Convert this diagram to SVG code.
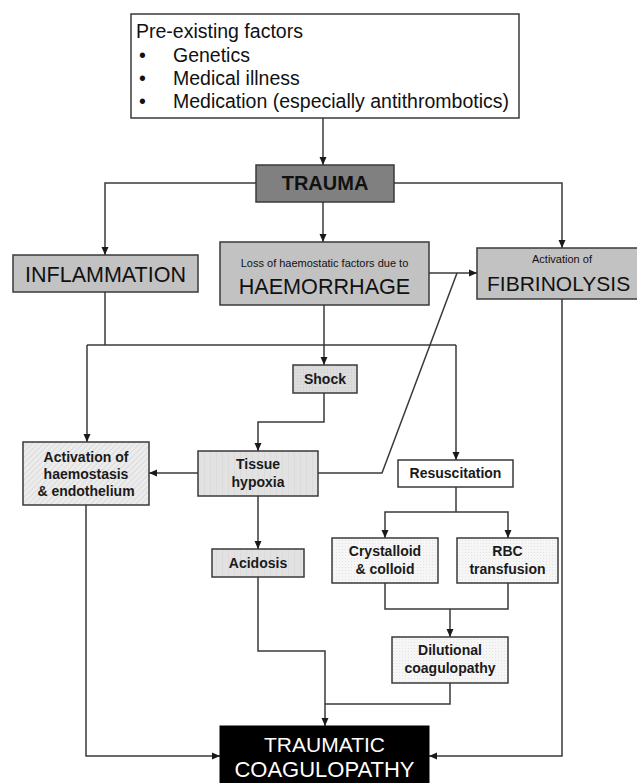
<svg xmlns="http://www.w3.org/2000/svg" width="637" height="783" viewBox="0 0 637 783">
<style>
.box{stroke:#3a3a3a;stroke-width:1.5}
.c{fill:none;stroke:#3a3a3a;stroke-width:1.5}
.a{marker-end:url(#ah)}
.t{font-family:"Liberation Sans",Arial,sans-serif;fill:#111}
.p{font-size:19.5px}
.b{font-family:"Liberation Sans",Arial,sans-serif;font-weight:bold;font-size:14px;fill:#1a1a1a;text-anchor:middle}
.m{text-anchor:middle}
</style>
<defs>
<marker id="ah" viewBox="0 0 8 8" refX="8" refY="4" markerWidth="8" markerHeight="8" markerUnits="userSpaceOnUse" orient="auto">
<path d="M0,0.5 L8,4 L0,7.5 Z" fill="#1a1a1a"/>
</marker>
<pattern id="hatch" width="4" height="4" patternUnits="userSpaceOnUse" patternTransform="rotate(45)">
<rect width="4" height="4" fill="#ececec"/>
<line x1="0" y1="0" x2="0" y2="4" stroke="#d0d0d0" stroke-width="1.2"/>
</pattern>
<pattern id="vstripe" width="6" height="6" patternUnits="userSpaceOnUse">
<rect width="6" height="6" fill="#e2e2e2"/>
<line x1="0" y1="0" x2="0" y2="6" stroke="#d4d4d4" stroke-width="1"/>
</pattern>
<pattern id="dots" width="3" height="3" patternUnits="userSpaceOnUse">
<rect width="3" height="3" fill="#f6f6f6"/>
<rect width="1" height="1" fill="#e4e4e4"/>
</pattern>
<pattern id="dots2" width="3" height="3" patternUnits="userSpaceOnUse">
<rect width="3" height="3" fill="#dcdcdc"/>
<rect width="1" height="1" fill="#cccccc"/>
</pattern>
</defs>

<g id="connectors">
<path class="c a" d="M323,118 V165"/>
<path class="c a" d="M256,183 H105 V255"/>
<path class="c a" d="M394,183 H562 V248"/>
<path class="c a" d="M323,202 V242"/>
<path class="c a" d="M429,273 H477"/>
<path class="c" d="M318,473 H382 L457,273"/>
<path class="c" d="M105,292 V345"/>
<path class="c" d="M87,345 H456"/>
<path class="c a" d="M87,345 V442"/>
<path class="c a" d="M456,345 V460"/>
<path class="c a" d="M324,305 V365"/>
<path class="c a" d="M324,393 V422 H258 V451"/>
<path class="c a" d="M198,473 H149"/>
<path class="c a" d="M258,496 V549"/>
<path class="c a" d="M258,577 V651 H325 V726"/>
<path class="c" d="M456,487 V512"/>
<path class="c a" d="M456,512 H385 V538"/>
<path class="c a" d="M456,512 H508 V538"/>
<path class="c" d="M385,583 V609 H508 V583"/>
<path class="c a" d="M450,609 V637"/>
<path class="c" d="M450,683 V704 H325"/>
<path class="c a" d="M86,505 V756 H220"/>
<path class="c a" d="M562,299 V756 H429"/>
</g>

<g id="preexisting">
<rect class="box" x="131" y="14" width="388" height="104" fill="#fff"/>
<text class="t p" x="136" y="38">Pre-existing factors</text>
<text class="t p" x="139" y="62">•</text>
<text class="t p" x="173" y="62">Genetics</text>
<text class="t p" x="139" y="85">•</text>
<text class="t p" x="173" y="85">Medical illness</text>
<text class="t p" x="139" y="108">•</text>
<text class="t p" x="173" y="108">Medication (especially antithrombotics)</text>
</g>

<g id="trauma">
<rect class="box" x="256" y="165" width="138" height="37" fill="#808080"/>
<text class="t m" x="325" y="190" font-size="20" font-weight="bold">TRAUMA</text>
</g>

<g id="inflammation">
<rect class="box" x="13" y="255" width="185" height="37" fill="#c2c2c2"/>
<text class="t m" x="105.5" y="282" font-size="21.5">INFLAMMATION</text>
</g>

<g id="haemorrhage">
<rect class="box" x="220" y="242" width="209" height="63" fill="#c2c2c2"/>
<text class="t m" x="324.5" y="267" font-size="11">Loss of haemostatic factors due to</text>
<text class="t m" x="324.5" y="294" font-size="21.6">HAEMORRHAGE</text>
</g>

<g id="fibrinolysis">
<rect class="box" x="477" y="248" width="170" height="51" fill="#c2c2c2"/>
<text class="t m" x="562" y="263" font-size="11">Activation of</text>
<text class="t" x="487" y="291" font-size="21">FIBRINOLYSIS</text>
</g>

<g id="shock">
<rect class="box" x="293" y="365" width="64" height="28" fill="url(#dots2)"/>
<text class="b" x="325" y="384">Shock</text>
</g>

<g id="activation">
<rect class="box" x="23" y="442" width="126" height="63" fill="url(#hatch)"/>
<text class="b" x="86" y="462">Activation of</text>
<text class="b" x="86" y="479">haemostasis</text>
<text class="b" x="86" y="496">&amp; endothelium</text>
</g>

<g id="hypoxia">
<rect class="box" x="198" y="451" width="120" height="45" fill="url(#vstripe)"/>
<text class="b" x="258" y="469">Tissue</text>
<text class="b" x="258" y="487">hypoxia</text>
</g>

<g id="acidosis">
<rect class="box" x="212" y="549" width="92" height="28" fill="url(#vstripe)"/>
<text class="b" x="258" y="568">Acidosis</text>
</g>

<g id="resuscitation">
<rect class="box" x="398" y="460" width="115" height="27" fill="#fff"/>
<text class="b" x="455.5" y="478">Resuscitation</text>
</g>

<g id="crystalloid">
<rect class="box" x="332" y="538" width="106" height="45" fill="url(#dots)"/>
<text class="b" x="385" y="556">Crystalloid</text>
<text class="b" x="385" y="574">&amp; colloid</text>
</g>

<g id="rbc">
<rect class="box" x="457" y="538" width="101" height="45" fill="url(#dots)"/>
<text class="b" x="507.5" y="556">RBC</text>
<text class="b" x="507.5" y="574">transfusion</text>
</g>

<g id="dilutional">
<rect class="box" x="392" y="637" width="116" height="46" fill="url(#dots)"/>
<text class="b" x="450" y="655">Dilutional</text>
<text class="b" x="450" y="673">coagulopathy</text>
</g>

<g id="coagulopathy">
<rect x="220" y="726" width="209" height="70" fill="#000" stroke="#000"/>
<text class="m" x="324.5" y="752" font-size="21" fill="#fff" font-family="Liberation Sans, Arial, sans-serif">TRAUMATIC</text>
<text class="m" x="324.5" y="777" font-size="22" fill="#fff" font-family="Liberation Sans, Arial, sans-serif">COAGULOPATHY</text>
</g>
</svg>
